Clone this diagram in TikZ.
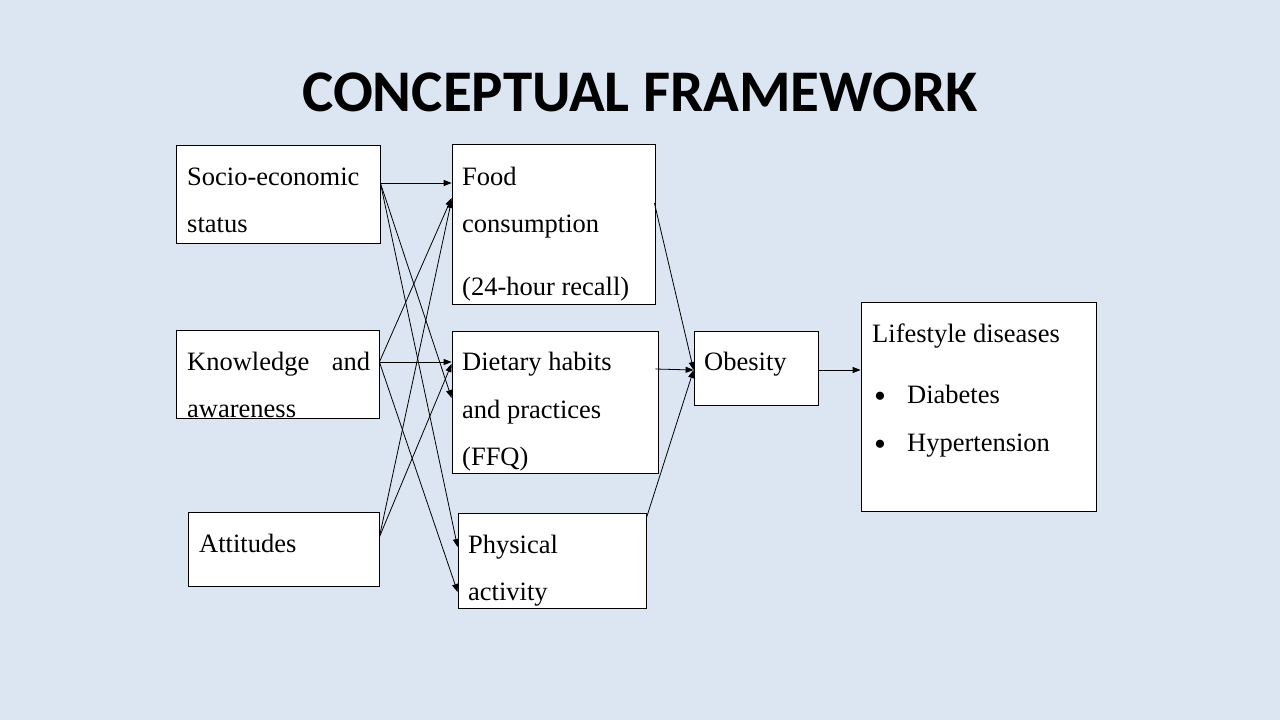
\documentclass[tikz,border=0pt]{standalone}
\usepackage{fontspec}
\setmainfont{Liberation Serif}
\newfontfamily\titlefont{Carlito}
\usetikzlibrary{positioning, arrows.meta}
\definecolor{slidebg}{RGB}{220,230,242}

\begin{document}
\begin{tikzpicture}[x=1pt, y=-1pt,
    box/.style={rectangle, draw, fill=white, line width=0.8pt, inner sep=0pt},
    txt/.style={anchor=base west, inner sep=0pt, font=\fontsize{26.5}{30}\selectfont},
    dot/.style={anchor=base west, inner sep=0pt, font=\fontsize{34}{34}\selectfont},
    arrow/.style={line width=0.8pt, -{Triangle[length=8pt, width=6pt]}}
]

\useasboundingbox (0,0) rectangle (1280,720);
\fill[slidebg] (0,0) rectangle (1280,720);

\node[anchor=base, inner sep=0pt, font=\titlefont\bfseries\fontsize{59}{60}\selectfont] (title) at (640,111) {CONCEPTUAL FRAMEWORK};

% boxes
\node[box, minimum width=204pt, minimum height=98pt] (ses) at (278,194) {};
\node[box, minimum width=203pt, minimum height=88pt] (know) at (277.5,374) {};
\node[box, minimum width=191pt, minimum height=74pt] (att) at (283.5,549) {};
\node[box, minimum width=203pt, minimum height=160pt] (food) at (553.5,224) {};
\node[box, minimum width=206pt, minimum height=142pt] (diet) at (555,402) {};
\node[box, minimum width=188pt, minimum height=95pt] (phys) at (552,560.5) {};
\node[box, minimum width=124pt, minimum height=74pt] (obes) at (756,368) {};
\node[box, minimum width=235pt, minimum height=209pt] (life) at (978.5,406.5) {};

% texts
\node[txt] (ses1) at (187,185) {Socio-economic};
\node[txt] (ses2) at (187,232) {status};
\node[txt] (know1) at (187,370) {\makebox[183pt][s]{Knowledge and}};
\node[txt] (know2) at (187,417) {awareness};
\node[txt] (att1) at (199,552) {Attitudes};
\node[txt] (food1) at (462,185) {Food};
\node[txt] (food2) at (462,232) {consumption};
\node[txt] (food3) at (462,295) {(24-hour recall)};
\node[txt] (diet1) at (462,370) {Dietary habits};
\node[txt] (diet2) at (462,418) {and practices};
\node[txt] (diet3) at (462,465) {(FFQ)};
\node[txt] (phys1) at (468,553) {Physical};
\node[txt] (phys2) at (468,600) {activity};
\node[txt] (obes1) at (704,370) {Obesity};
\node[txt] (life1) at (872,342) {Lifestyle diseases};
\node[dot] (bul1) at (874,407) {\textbullet};
\node[txt] (life2) at (907,403) {Diabetes};
\node[dot] (bul2) at (874,455) {\textbullet};
\node[txt] (life3) at (907,451) {Hypertension};

% arrows
\draw[arrow] ([yshift=11pt]ses.east) -- ([yshift=11pt]ses.east -| food.west);
\draw[arrow] ([yshift=11pt]ses.east) -- ([yshift=4pt]diet.west);
\draw[arrow] ([yshift=11pt]ses.east) -- ([yshift=13.5pt]phys.west);
\draw[arrow] ([yshift=12pt]know.east) -- ([yshift=26pt]food.west);
\draw[arrow] ([yshift=12pt]know.east) -- ([yshift=12pt]know.east -| diet.west);
\draw[arrow] ([yshift=12pt]know.east) -- ([yshift=-31.5pt]phys.west);
\draw[arrow] ([yshift=12pt]att.east) -- ([yshift=24pt]food.west);
\draw[arrow] ([yshift=12pt]att.east) -- ([yshift=38pt]diet.west);
\draw[arrow] ([xshift=-1pt, yshift=21pt]food.east) -- ([yshift=-2pt]obes.west);
\draw[arrow] ([xshift=-3pt, yshift=-1pt]diet.east |- obes.west) -- ([yshift=-2pt]obes.west);
\draw[arrow] ([yshift=42.5pt]phys.east) -- ([yshift=-2pt]obes.west);
\draw[arrow] ([yshift=-2pt]obes.east) -- ([yshift=-2pt]obes.east -| life.west);

\end{tikzpicture}
\end{document}
